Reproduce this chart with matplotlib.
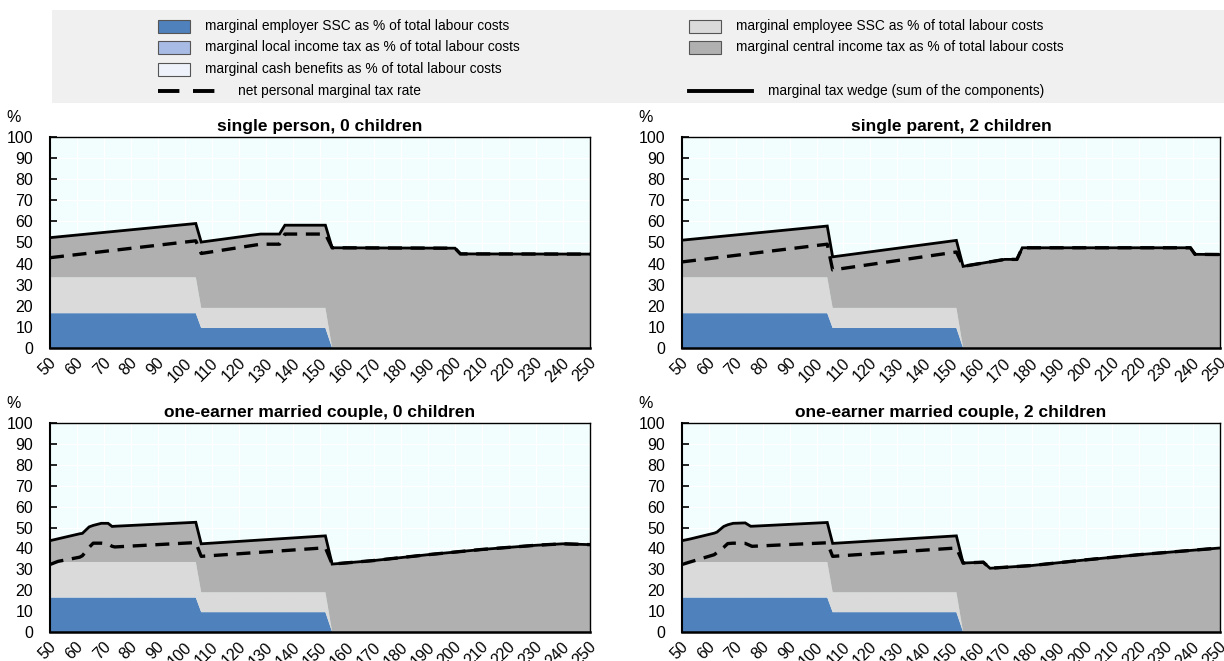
import numpy as np
import matplotlib
matplotlib.use("Agg")
import matplotlib.pyplot as plt
import matplotlib.transforms as mtransforms
from matplotlib.patches import Rectangle
from matplotlib.lines import Line2D
from matplotlib import font_manager as fm

# ---------------- data ----------------
titles = ["single person, 0 children", "single parent, 2 children",
          "one-earner married couple, 0 children", "one-earner married couple, 2 children"]

x_sp0 = [50, 104, 106, 128, 135, 137, 152, 154.5, 200, 202, 250]
er_sp0 = [16.5, 16.5, 9.5, 9.5, 9.5, 9.5, 9.5, 0, 0, 0, 0]
ee_sp0 = [17, 17, 9.5, 9.5, 9.5, 9.5, 9.5, 0, 0, 0, 0]
cit_sp0 = [18.8, 25.5, 31.2, 35.0, 35.0, 39.2, 39.2, 47.5, 47.3, 44.6, 44.5]
net_sp0 = [42.8, 50.8, 44.8, 49.2, 49.2, 54.0, 54.0, 47.5, 47.3, 44.6, 44.5]

x_sp2 = [50, 104, 106, 152, 154.5, 170, 174.5, 176.5, 239, 240.7, 250]
er_sp2 = [16.5, 16.5, 9.5, 9.5, 0, 0, 0, 0, 0, 0, 0]
ee_sp2 = [17, 17, 9.5, 9.5, 0, 0, 0, 0, 0, 0, 0]
cit_sp2 = [17.6, 24.3, 24.2, 32.0, 38.7, 42.0, 42.0, 47.5, 47.5, 44.4, 44.3]
net_sp2 = [40.8, 49.2, 37.0, 45.5, 38.7, 42.0, 42.0, 47.5, 47.5, 44.4, 44.3]

x_mc0 = [50, 53, 61, 62, 64.5, 66, 69, 71.5, 73, 74, 104, 106, 152, 154.5, 170, 190, 210, 230, 240, 250]
er_mc0 = [16.5] * 11 + [9.5, 9.5] + [0] * 7
ee_mc0 = [17] * 11 + [9.5, 9.5] + [0] * 7
cit_mc0 = [10.2, 11.1, 13.5, 13.7, 16.8, 17.5, 18.5, 18.5, 17.0, 17.1, 19.0,
           23.2, 27.0, 32.5, 34.2, 37.0, 39.5, 41.5, 42.2, 41.8]
net_mc0 = [32.3, 33.8, 35.8, 36.5, 40.5, 42.5, 42.5, 42.2, 41.0, 40.7, 42.8,
           36.2, 40.3, 32.5, 34.2, 37.0, 39.5, 41.5, 42.2, 41.8]

x_mc2 = [50, 53, 62, 63, 65.5, 67, 69, 73.5, 75.5, 76, 104, 106, 152, 154.5, 162, 164.5, 180, 200, 220, 250]
er_mc2 = [16.5] * 11 + [9.5, 9.5] + [0] * 7
ee_mc2 = [17] * 11 + [9.5, 9.5] + [0] * 7
cit_mc2 = [10.2, 11.0, 13.8, 14.3, 17.0, 17.8, 18.5, 18.7, 17.1, 17.1, 18.9,
           23.4, 27.0, 33.0, 33.4, 30.5, 31.8, 34.5, 37.0, 40.2]
net_mc2 = [32.3, 33.5, 37.0, 38.0, 40.5, 42.3, 42.5, 42.4, 41.3, 41.0, 42.7,
           36.2, 40.2, 33.0, 33.4, 30.5, 31.8, 34.5, 37.0, 40.2]

panels = [
    (x_sp0, er_sp0, ee_sp0, cit_sp0, net_sp0),
    (x_sp2, er_sp2, ee_sp2, cit_sp2, net_sp2),
    (x_mc0, er_mc0, ee_mc0, cit_mc0, net_mc0),
    (x_mc2, er_mc2, ee_mc2, cit_mc2, net_mc2),
]

legend_left = ["marginal employer SSC as % of total labour costs",
               "marginal local income tax as % of total labour costs",
               "marginal cash benefits as % of total labour costs",
               "net personal marginal tax rate"]
legend_right = ["marginal employee SSC as % of total labour costs",
                "marginal central income tax as % of total labour costs",
                "marginal tax wedge (sum of the components)"]

# ---------------- style ----------------
BLUE = "#4f81bd"
LOCAL = "#a7bbe4"
CASH = "#eef2fa"
LGRAY = "#dadada"
DGRAY = "#b0b0b0"
BG = "#f2fdfd"
LEGBG = "#f0f0f0"


def pick_font():
    for name in ["Liberation Sans Narrow", "Arial Narrow", "Liberation Sans"]:
        try:
            fm.findfont(fm.FontProperties(family=name), fallback_to_default=False)
            return name
        except Exception:
            pass
    return "DejaVu Sans"


FONT = pick_font()
NARROW = "Narrow" in FONT
plt.rcParams["font.family"] = [FONT, "DejaVu Sans"]

TICK_FS = 12 if NARROW else 11.5
LEG_FS = 11.5 if NARROW else 9.9
TITLE_FS = 13 if NARROW else 12.5

W, H = 1224, 661
fig = plt.figure(figsize=(W / 100, H / 100), dpi=100)


def fx(px):
    return px / W


def fy(py):
    return 1 - py / H


boxes = [(50, 137, 590, 348), (682, 137, 1220, 348), (50, 423, 590, 632), (682, 423, 1220, 632)]
shift = mtransforms.ScaledTranslation(4 / 100, 0, fig.dpi_scale_trans)

for (l, t, r, b), title, (x, er, ee, cit, net) in zip(boxes, titles, panels):
    ax = fig.add_axes([fx(l), fy(b), fx(r) - fx(l), fy(t) - fy(b)])
    ax.set_facecolor(BG)
    ax.set_axisbelow(True)
    ax.grid(True, color="white", lw=1.0)
    ax.stackplot(x, er, ee, cit, colors=[BLUE, LGRAY, DGRAY], linewidth=0, zorder=2)
    wedge = np.array(er) + np.array(ee) + np.array(cit)
    ax.plot(x, wedge, color="black", lw=2.0, zorder=4, solid_joinstyle="miter")
    ax.plot(x, net, color="black", lw=2.4, ls=(0, (4.2, 2.6)), zorder=5)
    ax.set_xlim(50, 250)
    ax.set_ylim(0, 100)
    ax.set_xticks(np.arange(50, 251, 10))
    ax.set_yticks(np.arange(0, 101, 10))
    ax.tick_params(direction="in", length=5, width=1.2, labelsize=TICK_FS)
    ax.tick_params(axis="y", pad=12)
    ax.tick_params(axis="x", pad=9)
    for lab in ax.get_xticklabels():
        lab.set_rotation(45)
        lab.set_ha("right")
        lab.set_va("center")
        lab.set_rotation_mode("anchor")
        lab.set_transform(lab.get_transform() + shift)
    for s in ax.spines.values():
        s.set_color("black")
        s.set_linewidth(1.0)
    ax.spines["bottom"].set_linewidth(1.8)
    ax.spines["left"].set_linewidth(1.5)
    ax.set_title(title, fontsize=TITLE_FS, fontweight="bold", pad=4)
    fig.text(fx(l - 36), fy(t - 19), "%", fontsize=TICK_FS, ha="center", va="center")

# ---------------- legend ----------------
fig.add_artist(Rectangle((fx(52), fy(103)), fx(1224) - fx(52), fy(10) - fy(103),
                         transform=fig.transFigure, facecolor=LEGBG, edgecolor="none", zorder=0))
rows = [26, 47, 69, 91]
left_cols = [BLUE, LOCAL, CASH]
for ry, col, txt in zip(rows[:3], left_cols, legend_left[:3]):
    fig.add_artist(Rectangle((fx(158), fy(ry + 6.5)), fx(32), fy(0) - fy(13),
                             transform=fig.transFigure, facecolor=col, edgecolor="#555555", lw=0.8))
    fig.text(fx(205), fy(ry), txt, fontsize=LEG_FS, ha="left", va="center")
fig.add_artist(Line2D([fx(158), fx(222)], [fy(rows[3]), fy(rows[3])], transform=fig.transFigure,
                      color="black", lw=2.8, ls=(0, (5.5, 3.5))))
fig.text(fx(238), fy(rows[3]), legend_left[3], fontsize=LEG_FS, ha="left", va="center")

for ry, col, txt in zip(rows[:2], [LGRAY, DGRAY], legend_right[:2]):
    fig.add_artist(Rectangle((fx(689), fy(ry + 6.5)), fx(32), fy(0) - fy(13),
                             transform=fig.transFigure, facecolor=col, edgecolor="#555555", lw=0.8))
    fig.text(fx(736), fy(ry), txt, fontsize=LEG_FS, ha="left", va="center")
fig.add_artist(Line2D([fx(689), fx(752)], [fy(rows[3]), fy(rows[3])], transform=fig.transFigure,
                      color="black", lw=2.8))
fig.text(fx(768), fy(rows[3]), legend_right[2], fontsize=LEG_FS, ha="left", va="center")

fig.savefig("out.png", dpi=100)
